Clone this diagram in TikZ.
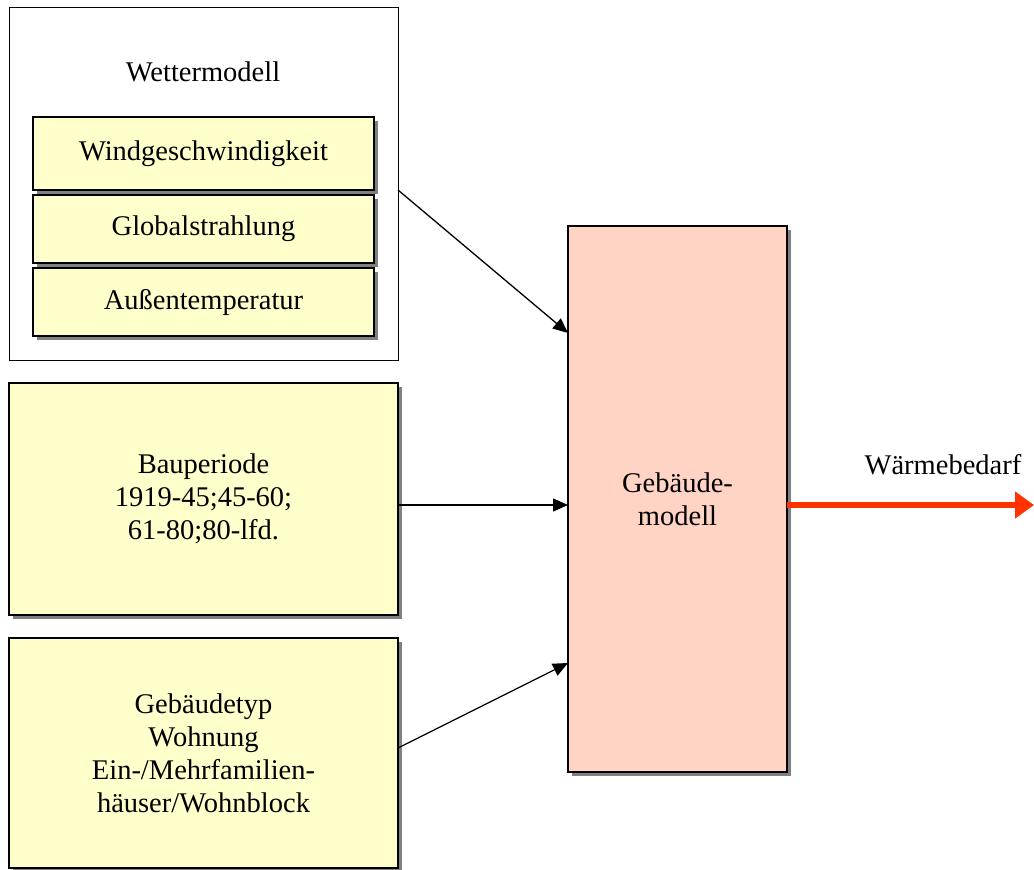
\documentclass[tikz,border=0pt]{standalone}
\usepackage{fontspec}
\setmainfont{Liberation Serif}
\usetikzlibrary{arrows.meta,shadows}
\definecolor{gelb}{HTML}{FFFFCC}
\definecolor{lachs}{HTML}{FFD4C4}
\definecolor{schatten}{HTML}{808080}
\definecolor{pfeilrot}{HTML}{FF3300}
\begin{document}
\begin{tikzpicture}[x=1pt,y=-1pt]
    \tikzstyle{schrift}=[font=\fontsize{28.5}{33}\selectfont,align=center]
    \tikzstyle{kasten}=[schrift,draw,line width=1.3pt,anchor=north west,inner sep=0pt,outer sep=0pt]
    \tikzstyle{schattiert}=[kasten,drop shadow={shadow xshift=4pt,shadow yshift=-4pt,fill=schatten,opacity=1}]
    \tikzstyle{gelbkasten}=[schattiert,fill=gelb]
    \tikzstyle{pfeil}=[line width=1.3pt,-{Triangle[length=15pt,width=13pt]}]
    \useasboundingbox (0,0) rectangle (1034,870);
      \node[kasten,fill=white,line width=1pt,minimum width=389pt,minimum height=353pt] (wetter) at (9,7) {};
      \node[schrift] (wettertitel) at (203,72) {Wettermodell};
      \node[gelbkasten,minimum width=341pt,minimum height=73pt] (wind) at (33,117) {Windgeschwindigkeit};
      \node[gelbkasten,minimum width=341pt,minimum height=68pt] (global) at (33,195) {Globalstrahlung};
      \node[gelbkasten,minimum width=341pt,minimum height=68pt] (aussen) at (33,268) {Außentemperatur};
      \node[gelbkasten,minimum width=389pt,minimum height=232pt] (bau) at (9,383) {Bauperiode\\1919-45;45-60;\\61-80;80-lfd.};
      \node[gelbkasten,minimum width=389pt,minimum height=230pt] (typ) at (9,638) {Gebäudetyp\\Wohnung\\Ein-/Mehrfamilien-\\häuser/Wohnblock};
      \node[schattiert,fill=lachs,minimum width=219pt,minimum height=546pt] (gebaeude) at (568,226) {Gebäude-\\modell};
      \node[schrift] (waerme) at (943,465) {Wärmebedarf};
      \coordinate (ausgang) at (1034,505);
    \draw[pfeil] (wetter.east |- wind.south) -- ([yshift=-107pt]gebaeude.north west);
    \draw[pfeil] ([yshift=-6pt]bau.east) -- ([yshift=-6pt]gebaeude.west);
    \draw[pfeil] ([yshift=5pt]typ.east) -- ([yshift=109pt]gebaeude.south west);
    \draw[line width=6pt,pfeilrot,-{Triangle[length=19pt,width=26pt]}] (gebaeude.east |- ausgang) -- (ausgang);
\end{tikzpicture}
\end{document}
